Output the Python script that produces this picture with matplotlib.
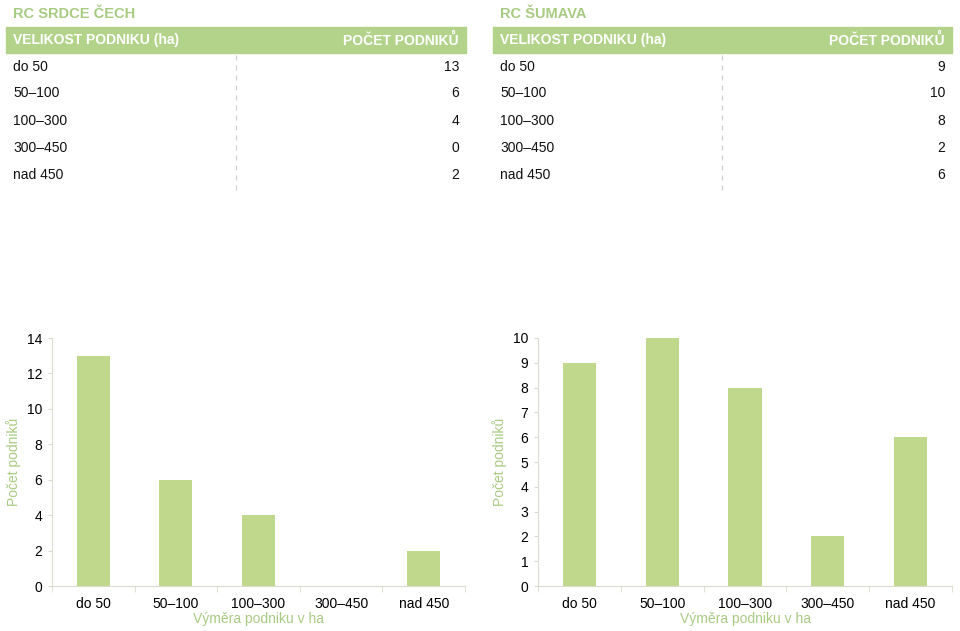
import matplotlib
matplotlib.use('Agg')
import numpy as np
from matplotlib import pyplot as plt
from matplotlib.patches import Rectangle
from matplotlib.lines import Line2D

plt.rcParams['font.family'] = ['Liberation Sans', 'DejaVu Sans']

# data
categories = ['do 50', '50–100', '100–300', '300–450', 'nad 450']
srdce_values = [13, 6, 4, 0, 2]
sumava_values = [9, 10, 8, 2, 6]
titles = ['RC SRDCE ČECH', 'RC ŠUMAVA']
header_left = 'VELIKOST PODNIKU (ha)'
header_right = 'POČET PODNIKŮ'
x_label = 'Výměra podniku v ha'
y_label = 'Počet podniků'

W, H = 960, 631
green_head = '#b3d38b'
green_bar = '#c0d88b'
green_text = '#a8cb82'
axis_col = '#d9dccd'

fig = plt.figure(figsize=(W / 100, H / 100), dpi=100)


def fx(px):
    return px / W


def fy(py):
    return 1 - py / H


def draw_table(x0, x1, xdash, title, values):
    fig.text(fx(x0 + 7), fy(14), title, color=green_text, fontsize=10.5,
             fontweight='bold', va='center', ha='left')
    fig.patches.append(Rectangle((fx(x0), fy(53)), fx(x1 - x0), 26 / H,
                                 transform=fig.transFigure, color=green_head))
    fig.text(fx(x0 + 7), fy(40), header_left, color='white', fontsize=10,
             fontweight='bold', va='center', ha='left')
    fig.text(fx(x1 - 7), fy(40), header_right, color='white', fontsize=10,
             fontweight='bold', va='center', ha='right')
    fig.lines.append(Line2D([fx(xdash), fx(xdash)], [fy(55), fy(190)],
                            transform=fig.transFigure, color='#d0d0d0',
                            lw=0.9, ls=(0, (4, 4))))
    row_y = [67, 93, 121, 148, 175]
    for cat, val, ry in zip(categories, values, row_y):
        fig.text(fx(x0 + 7), fy(ry), cat, color='#111111', fontsize=10,
                 va='center', ha='left')
        fig.text(fx(x1 - 7), fy(ry), str(val), color='#111111', fontsize=10,
                 va='center', ha='right')


draw_table(6, 466, 236, titles[0], srdce_values)
draw_table(493, 952, 722, titles[1], sumava_values)


def draw_bars(rect, values, ymax, step):
    ax = fig.add_axes(rect)
    x = np.arange(len(categories))
    ax.bar(x, values, width=0.4, color=green_bar)
    ax.set_xlim(-0.5, len(categories) - 0.5)
    ax.set_ylim(0, ymax)
    ax.set_yticks(np.arange(0, ymax + 1, step))
    ax.set_xticks(x)
    ax.set_xticklabels(categories)
    ax.set_xticks(np.arange(-0.5, len(categories), 1), minor=True)
    ax.tick_params(axis='x', which='major', length=0, pad=8, labelsize=10)
    ax.tick_params(axis='x', which='minor', length=4, color=axis_col)
    ax.tick_params(axis='y', length=3, color=axis_col, labelsize=10, pad=4)
    for s in ['top', 'right']:
        ax.spines[s].set_visible(False)
    for s in ['left', 'bottom']:
        ax.spines[s].set_color(axis_col)
    ax.set_xlabel(x_label, color=green_text, fontsize=10, labelpad=1)
    ax.set_ylabel(y_label, color=green_text, fontsize=10)
    ax.yaxis.set_label_coords(-0.076, 0.5)
    return ax


draw_bars([fx(52), fy(586), fx(465 - 52), (586 - 338) / H], srdce_values, 14, 2)
draw_bars([fx(538), fy(586), fx(952 - 538), (586 - 338) / H], sumava_values, 10, 1)

fig.savefig('out.png', dpi=100)
